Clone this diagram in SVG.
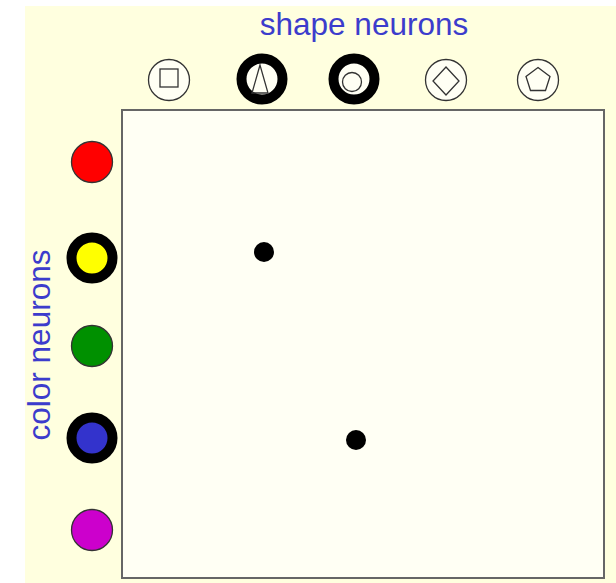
<svg xmlns="http://www.w3.org/2000/svg" width="616" height="583" viewBox="0 0 616 583">
<style>
.lbl{font-family:"Liberation Sans",Arial,sans-serif;font-size:31.5px;fill:#3c3ccc;text-anchor:middle}
.n{stroke:#333;stroke-width:1.3}
.on{stroke:#000;stroke-width:10}
.sh{fill:none;stroke:#333;stroke-width:1.3}
.dot{fill:#000}
</style>
<rect x="25" y="6" width="591" height="577" fill="#ffffdf"/>
<rect x="122" y="110" width="482" height="468" fill="#fffff4" stroke="#666" stroke-width="2"/>
<text class="lbl" x="364" y="35">shape neurons</text>
<text class="lbl" transform="translate(50,345) rotate(-90)">color neurons</text>
<g id="shape-square"><circle class="n" cx="169" cy="80" r="20.5" fill="#fffff4"/><rect class="sh" x="160" y="69" width="18" height="18"/></g>
<g id="shape-triangle"><circle class="on" cx="262" cy="79" r="20.5" fill="#fffff4"/><polygon class="sh" points="260,65 252,93 268,93"/></g>
<g id="shape-circle"><circle class="on" cx="354" cy="79" r="20.5" fill="#fffff4"/><circle class="sh" cx="352" cy="82" r="9.5"/></g>
<g id="shape-diamond"><circle class="n" cx="446" cy="80" r="20.5" fill="#fffff4"/><polygon class="sh" points="446,67 459,81 446,95 433,81"/></g>
<g id="shape-pentagon"><circle class="n" cx="538" cy="80" r="20.5" fill="#fffff4"/><polygon class="sh" points="538,67.5 550,76.5 545.5,90.5 530.5,90.5 526,76.5"/></g>
<g id="color-red"><circle class="n" cx="92" cy="162" r="20.5" fill="#ff0000"/></g>
<g id="color-yellow"><circle class="on" cx="92" cy="258" r="20.5" fill="#ffff00"/></g>
<g id="color-green"><circle class="n" cx="92" cy="346" r="20.5" fill="#009000"/></g>
<g id="color-blue"><circle class="on" cx="92" cy="438" r="20.5" fill="#3333cc"/></g>
<g id="color-magenta"><circle class="n" cx="92" cy="530" r="20.5" fill="#cc00cc"/></g>
<g id="connectors">
<circle class="dot" cx="264" cy="252" r="10"/>
<circle class="dot" cx="356" cy="440" r="10"/>
</g>
</svg>
